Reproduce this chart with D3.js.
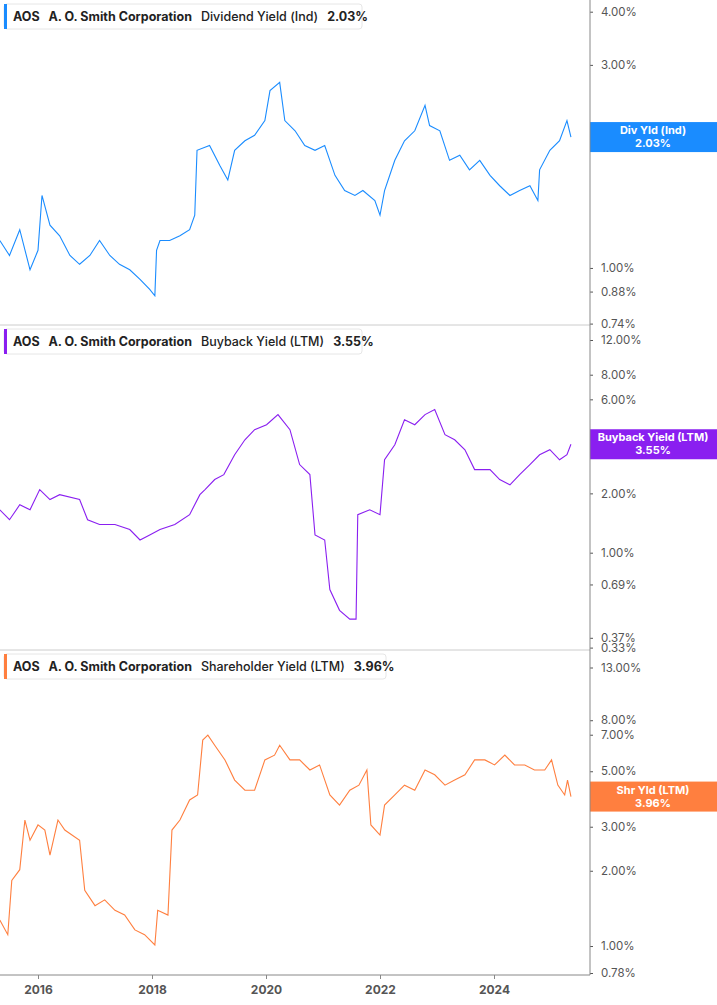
<!DOCTYPE html>
<html><head><meta charset="utf-8">
<script src="https://cdn.jsdelivr.net/npm/d3@7"></script>
<style>body{margin:0;background:#fff;font-family:Inter,"Noto Sans",sans-serif}</style>
</head><body><svg id="c" width="717" height="1005"></svg>
<script>
// x positions expressed as decimal years
const divX=[2015.33,2015.5,2015.68,2015.86,2016,2016.07,2016.21,2016.38,2016.56,2016.73,2016.91,2017.08,2017.26,2017.43,2017.61,2017.79,2017.96,2018.05,2018.08,2018.14,2018.31,2018.49,2018.66,2018.75,2018.79,2019.01,2019.19,2019.33,2019.45,2019.63,2019.8,2019.98,2020.07,2020.24,2020.33,2020.51,2020.68,2020.86,2021.03,2021.21,2021.38,2021.56,2021.7,2021.91,2022,2022.08,2022.26,2022.43,2022.61,2022.79,2022.87,2023.05,2023.22,2023.4,2023.57,2023.75,2023.93,2024.1,2024.28,2024.45,2024.63,2024.77,2024.8,2024.98,2025.15,2025.28,2025.35];
const divV=[1.16,1.07,1.23,0.99,1.10,1.48,1.26,1.19,1.07,1.02,1.07,1.16,1.07,1.02,0.99,0.94,0.89,0.86,1.10,1.16,1.16,1.19,1.23,1.33,1.89,1.94,1.74,1.61,1.89,1.99,2.05,2.22,2.61,2.73,2.22,2.10,1.94,1.89,1.94,1.65,1.52,1.48,1.52,1.44,1.33,1.52,1.79,1.99,2.10,2.41,2.16,2.10,1.79,1.84,1.70,1.79,1.65,1.56,1.48,1.52,1.56,1.44,1.70,1.89,1.99,2.22,2.03];
const bbX=[2015.33,2015.5,2015.68,2015.86,2016.03,2016.21,2016.38,2016.73,2016.87,2017.08,2017.35,2017.61,2017.79,2017.96,2018.14,2018.4,2018.66,2018.84,2018.93,2019.1,2019.26,2019.45,2019.63,2019.8,2020.01,2020.21,2020.42,2020.59,2020.77,2020.86,2021.03,2021.12,2021.29,2021.47,2021.58,2021.61,2021.82,2022,2022.08,2022.26,2022.43,2022.61,2022.79,2022.96,2023.14,2023.31,2023.49,2023.66,2023.93,2024.1,2024.28,2024.45,2024.63,2024.8,2024.98,2025.15,2025.28,2025.35];
const bbV=[1.65,1.47,1.75,1.65,2.09,1.86,1.97,1.86,1.47,1.39,1.39,1.31,1.16,1.23,1.31,1.39,1.56,1.97,2.09,2.35,2.49,3.14,3.74,4.21,4.46,5.02,4.21,2.80,2.49,1.23,1.16,0.65,0.51,0.46,0.46,1.56,1.65,1.56,2.96,3.53,4.73,4.46,5.02,5.32,3.97,3.74,3.33,2.64,2.64,2.35,2.21,2.49,2.80,3.14,3.33,2.96,3.14,3.55];
const shX=[2015.33,2015.47,2015.54,2015.68,2015.77,2015.86,2016,2016.12,2016.21,2016.35,2016.47,2016.73,2016.82,2017,2017.17,2017.35,2017.52,2017.7,2017.87,2018.05,2018.1,2018.28,2018.35,2018.49,2018.66,2018.8,2018.89,2018.98,2019.1,2019.28,2019.45,2019.63,2019.8,2019.98,2020.15,2020.24,2020.42,2020.59,2020.77,2020.94,2021.12,2021.29,2021.47,2021.63,2021.77,2021.84,2022,2022.08,2022.26,2022.43,2022.61,2022.79,2022.96,2023.14,2023.31,2023.49,2023.66,2023.84,2024.01,2024.19,2024.36,2024.54,2024.71,2024.89,2025.01,2025.12,2025.24,2025.29,2025.35];
const shV=[1.27,1.11,1.83,2.02,3.19,2.65,3.05,2.91,2.31,3.19,2.91,2.65,1.67,1.45,1.53,1.39,1.33,1.16,1.11,1.01,1.39,1.33,2.91,3.19,3.84,4.02,6.66,6.97,6.35,5.55,4.61,4.20,4.20,5.55,5.80,6.35,5.55,5.55,5.06,5.30,4.02,3.66,4.20,4.40,5.06,3.05,2.78,3.66,4.02,4.40,4.20,5.06,4.84,4.40,4.61,4.84,5.55,5.55,5.30,5.80,5.30,5.30,5.06,5.06,5.55,4.40,4.02,4.61,3.96];
const divTicks=[4,3,2,1,0.88,0.74];
const bbTicks=[12,8,6,2,1,0.69,0.37,0.33];
const shTicks=[13,8,7,5,3,2,1,0.78];
const xTicks=[2016,2018,2020,2022,2024];

const svg=d3.select("#c");
const axX=590;
const x=d3.scaleLinear().domain([2016,2024]).range([38,494]);
const panels=[
 {xs:divX,vs:divV,ticks:divTicks,dom:[0.74,4],rng:[323.6,11.7],color:"#1a8cff",name:"Dividend Yield (Ind)",badge:"Div Yld (Ind)",last:"2.03%",w:358,top:4},
 {xs:bbX,vs:bbV,ticks:bbTicks,dom:[0.33,12],rng:[647.6,340],color:"#8a1ff0",name:"Buyback Yield (LTM)",badge:"Buyback Yield (LTM)",last:"3.55%",w:358,top:329},
 {xs:shX,vs:shV,ticks:shTicks,dom:[0.78,13],rng:[973,667.5],color:"#ff7f3f",name:"Shareholder Yield (LTM)",badge:"Shr Yld (LTM)",last:"3.96%",w:382,top:654}
];
[325,650].forEach(yy=>svg.append("line").attr("x1",0).attr("x2",axX).attr("y1",yy).attr("y2",yy).attr("stroke","#ccc"));
panels.forEach(p=>{
 const y=d3.scaleLog().domain(p.dom).range(p.rng);
 const g=svg.append("g").attr("transform",`translate(${axX},0)`);
 g.call(d3.axisRight(y).tickValues(p.ticks).tickFormat(d=>d.toFixed(2)+"%").tickSize(3).tickPadding(8));
 g.select(".domain").remove();
 g.selectAll("text").attr("fill","#555").style("font-size","11.5px").style("font-family","Inter");
 g.selectAll("line").attr("stroke","#555");
 const data=p.xs.map((d,i)=>[d,p.vs[i]]);
 svg.append("path").datum(data).attr("fill","none").attr("stroke",p.color).attr("stroke-width",1.1)
  .attr("d",d3.line().x(d=>x(d[0])).y(d=>y(d[1])));
 const ly=y(p.vs[p.vs.length-1]);
 svg.append("rect").attr("x",axX).attr("y",ly-15).attr("width",127).attr("height",30).attr("fill",p.color);
 svg.append("text").attr("x",axX+63).attr("y",ly-3).attr("text-anchor","middle").attr("fill","#fff").attr("font-weight","bold").style("font-size","11px").text(p.badge);
 svg.append("text").attr("x",axX+63).attr("y",ly+10).attr("text-anchor","middle").attr("fill","#fff").attr("font-weight","bold").style("font-size","11px").text(p.last);
 // legend
 svg.append("rect").attr("x",4).attr("y",p.top).attr("width",p.w).attr("height",25).attr("rx",3).attr("fill","#fff").attr("stroke","#e6e6e6");
 svg.append("rect").attr("x",4).attr("y",p.top).attr("width",3).attr("height",25).attr("fill",p.color);
 const t=svg.append("text").attr("x",13).attr("y",p.top+17).style("font-size","12.5px").attr("fill","#222");
 t.append("tspan").attr("font-weight","bold").text("AOS");
 t.append("tspan").attr("dx",9).attr("font-weight","bold").text("A. O. Smith Corporation");
 t.append("tspan").attr("dx",9).attr("font-weight","500").text(p.name);
 t.append("tspan").attr("dx",9).attr("font-weight","bold").text(p.last);
});
svg.append("line").attr("x1",axX).attr("x2",axX).attr("y1",0).attr("y2",975).attr("stroke","#888");
const gx=svg.append("g").attr("transform","translate(0,975)");
gx.call(d3.axisBottom(x).tickValues(xTicks).tickFormat(d3.format("d")).tickSize(4).tickPadding(6));
gx.select(".domain").attr("d","M0,0H"+axX).attr("stroke","#888");
gx.selectAll("text").attr("fill","#555").attr("font-weight","bold").style("font-size","12px").style("font-family","Inter");
gx.selectAll("line").attr("stroke","#888");
</script></body></html>
